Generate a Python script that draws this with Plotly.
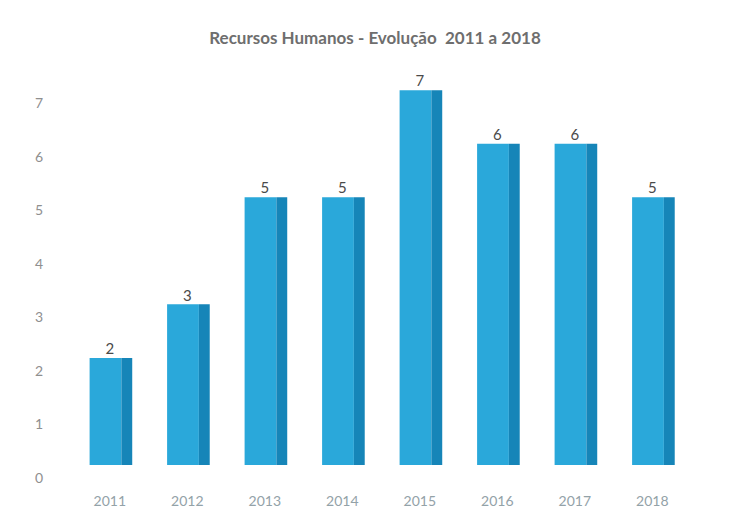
import plotly.graph_objects as go

# Staff headcount per year
anos = ["2011", "2012", "2013", "2014", "2015", "2016", "2017", "2018"]
colaboradores = [2, 3, 5, 5, 7, 6, 6, 5]
y_ticks = [0, 1, 2, 3, 4, 5, 6, 7]

fig = go.Figure()

# Front face of each column
fig.add_trace(go.Bar(
    x=anos, y=colaboradores,
    width=0.41, offset=-0.26,
    marker=dict(color="#2AA8DA", line=dict(width=0)),
    hoverinfo="x+y", showlegend=False,
))
# Darker side face for a light 3D look
fig.add_trace(go.Bar(
    x=anos, y=colaboradores,
    width=0.14, offset=0.15,
    marker=dict(color="#1685B8", line=dict(width=0)),
    hoverinfo="skip", showlegend=False,
))
# Value labels above the columns
fig.add_trace(go.Scatter(
    x=anos, y=colaboradores,
    mode="text", text=[str(v) for v in colaboradores],
    textposition="top center",
    textfont=dict(family="Lato, Open Sans, sans-serif", size=15, color="#4a4a4a"),
    hoverinfo="skip", showlegend=False,
))

fig.update_layout(
    width=731, height=522,
    margin=dict(l=71, r=40, t=58, b=57),
    paper_bgcolor="white", plot_bgcolor="white",
    barmode="overlay",
    title=dict(
        text="<b>Recursos Humanos - Evolução  2011 a 2018</b>",
        x=0.513, xanchor="center", y=0.928, yanchor="middle",
        font=dict(family="Lato, Open Sans, sans-serif", size=17, color="#6e6e6e"),
    ),
    xaxis=dict(
        type="category", showgrid=False, zeroline=False, showline=False,
        ticks="", ticklabelstandoff=26,
        tickfont=dict(family="Lato, Open Sans, sans-serif", size=14, color="#93a2a8"),
    ),
    yaxis=dict(
        range=[0, 7.6], tickvals=y_ticks, showgrid=False, zeroline=False,
        showline=False, ticks="", ticklabelstandoff=27, ticklabelshift=13,
        tickfont=dict(family="Lato, Open Sans, sans-serif", size=14, color="#8f8f8f"),
    ),
)

fig.write_html("out.html")
